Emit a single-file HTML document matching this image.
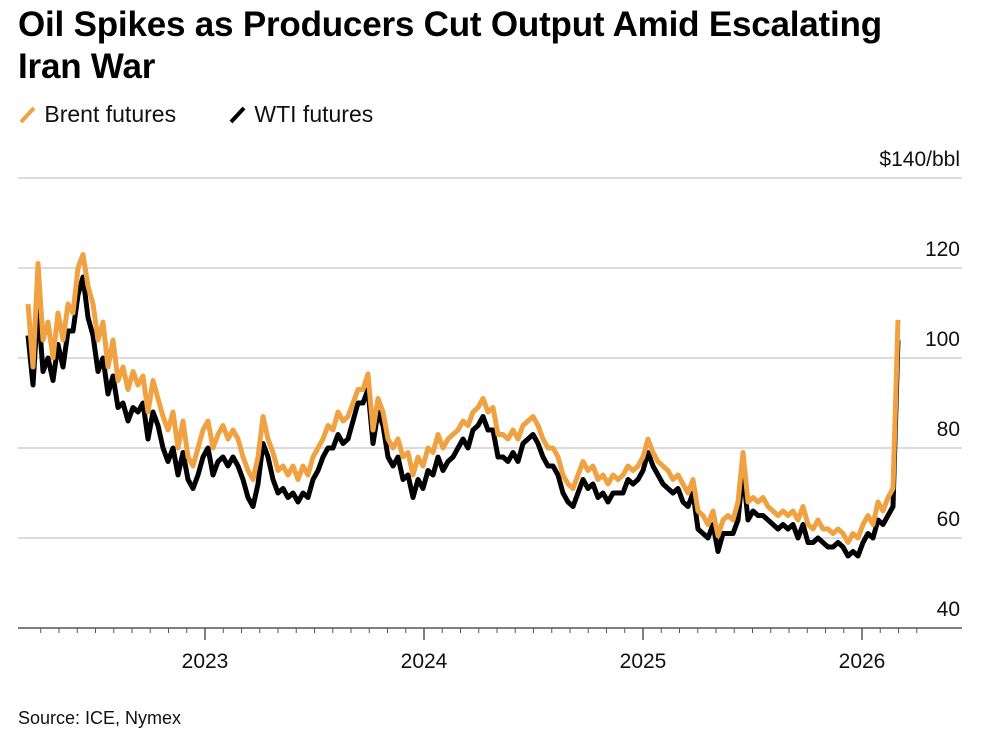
<!DOCTYPE html>
<html><head><meta charset="utf-8">
<style>
body{margin:0;background:#fff;width:994px;height:756px;overflow:hidden;font-family:"Liberation Sans",Arial,sans-serif;}
#title{position:absolute;left:18px;top:4px;width:910px;font-size:35px;font-weight:bold;line-height:42px;color:#000;letter-spacing:-0.2px;}
.leg{position:absolute;top:101px;font-size:23px;color:#111;}
#source{position:absolute;left:18px;top:708px;font-size:18px;color:#111;}
svg{position:absolute;left:0;top:0;}
</style></head><body>
<div id="title">Oil Spikes as Producers Cut Output Amid Escalating Iran War</div>
<div class="leg" style="left:18px"><svg width="20" height="24" style="position:relative;display:inline-block;vertical-align:-4px"><line x1="3" y1="20" x2="16" y2="6" stroke="#f0a242" stroke-width="4"/></svg> Brent futures</div>
<div class="leg" style="left:228px"><svg width="20" height="24" style="position:relative;display:inline-block;vertical-align:-4px"><line x1="3" y1="20" x2="16" y2="6" stroke="#000" stroke-width="4"/></svg> WTI futures</div>
<div id="source">Source: ICE, Nymex</div>
<svg id="chart" width="994" height="756"></svg>
<script>
const yTicks=[40,60,80,100,120,140];
const yTickLabels=["40","60","80","100","120","$140/bbl"];
const xYears=[2023,2024,2025,2026];
const startDate=2022.192, stepYears=0.02283;
const brent=[112,98,121,104,108,100,110,104,112,110,120,123,116,112,104,108,98,104,95,98,93,97,94,96,88,95,91,87,84,88,80,86,78,76,80,84,86,80,83,85,82,84,82,78,75,73,78,87,82,79,75,76,74,76,73,76,74,78,80,82,85,84,88,86,87,90,93,93,96.5,84,91,88,82,80,82,78,79,74,78,76,80,79,83,80,82,83,84,86,85,88,89,91,88,89,83,83,82,84,82,85,86,87,85,82,80,80,78,74,72,71,74,77,75,76,73,74,72,74,73,74,76,75,76,78,82,79,77,76,75,73,74,72,70,73,66,65,63,66,60.5,64,65,64,68,79,68,69,68,69,67,66,65,66,65,66,64,67,63,62,64,62,62,61,62,61,59,61,60,63,65,63,68,66,69,71,108.5];
const wti=[105,94,112,97,100,95,103,98,106,106,114,118,109,105,97,100,92,96,89,90,86,89,88,90,82,88,85,80,77,80,74,79,73,71,74,78,80,74,77,78,76,78,76,73,69,67,72,81,78,73,70,71,69,70,68,70,69,73,75,78,80,80,83,81,82,86,90,90,93,81,88,85,78,76,78,73,74,69,73,71,75,74,78,75,77,78,80,82,80,84,85,87,84,84,78,78,77,79,77,81,82,83,81,78,76,76,74,70,68,67,70,73,71,72,69,70,68,70,70,70,73,72,73,75,79,76,74,72,71,70,71,68,67,70,62,61,60,63,57,61,61,61,64,75,64,66,65,65,64,63,62,63,62,63,60,63,59,59,60,59,58,58,59,58,56,57,56,59,61,60,64,63,65,67,104];
const NS="http://www.w3.org/2000/svg";
const svg=document.getElementById('chart');
const x=t=>205+(t-2023)*219;
const y=v=>628-(v-40)*4.5;
function mk(tag,attrs){const e=document.createElementNS(NS,tag);for(const k in attrs)e.setAttribute(k,attrs[k]);svg.appendChild(e);return e;}
yTicks.forEach((v,i)=>{
  if(v>40){const g=mk('line',{x1:18,x2:962,y1:y(v),y2:y(v),stroke:'#d0d0d0','stroke-width':1.5});
  
  }
  const t=mk('text',{x:960,y:y(v)-12,'text-anchor':'end','font-size':21,fill:'#111','font-family':'Liberation Sans, sans-serif'});
  t.textContent=yTickLabels[i];
  
  
});
const ax=mk('line',{x1:18,x2:962,y1:628,y2:628,stroke:'#555','stroke-width':1.5});


for(let m=3;m<=51;m++){
  const t=2022+m/12; const xx=x(t); if(xx>962)break;
  const yr=(m%12===0);
  const tk=mk('line',{x1:xx,x2:xx,y1:628,y2:yr?640:633,stroke:'#555','stroke-width':yr?1.5:1});
  
  
}
xYears.forEach(yv=>{
  const t=mk('text',{x:x(yv),y:668,'text-anchor':'middle','font-size':21,fill:'#111','font-family':'Liberation Sans, sans-serif'});
  t.textContent=String(yv);
  
  
});
function path(arr){return arr.map((v,i)=>(i?'L':'M')+x(startDate+i*stepYears).toFixed(1)+','+y(v).toFixed(1)).join('');}
const w=mk('path',{d:path(wti),fill:'none',stroke:'#000','stroke-width':5,'stroke-linejoin':'round'});


const b=mk('path',{d:path(brent),fill:'none',stroke:'#f0a242','stroke-width':5,'stroke-linejoin':'round'});


</script>
</body></html>
